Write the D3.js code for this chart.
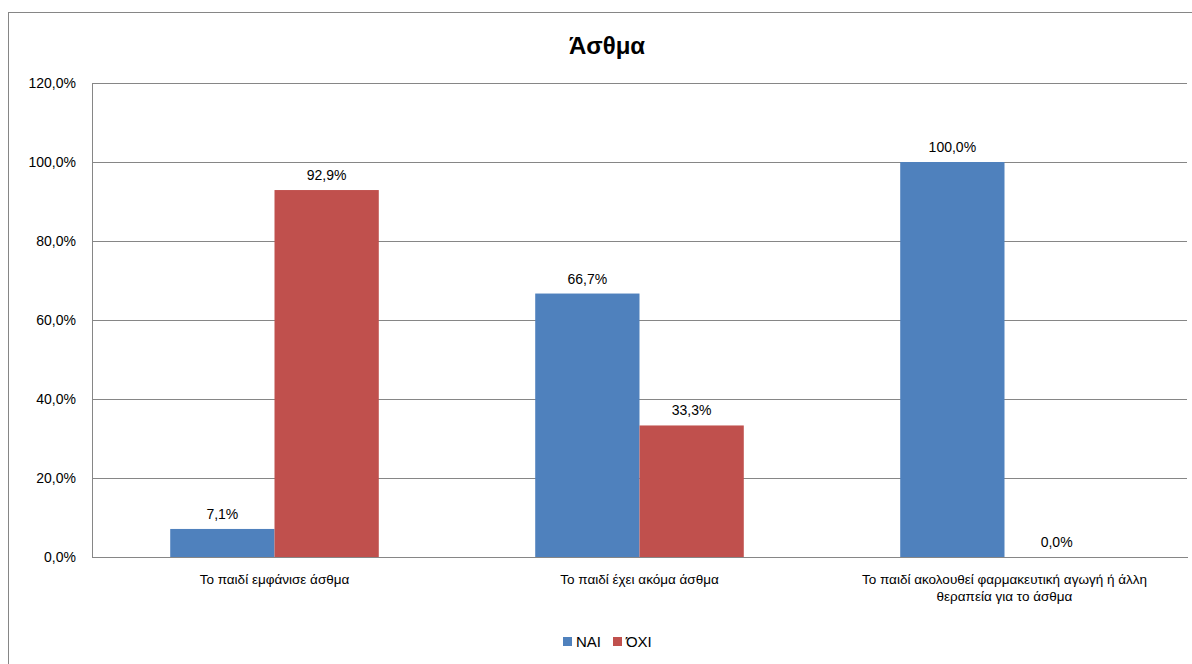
<!DOCTYPE html>
<html>
<head>
<meta charset="utf-8">
<script src="https://cdn.jsdelivr.net/npm/d3@7"></script>
<style>
body { margin: 0; background: #fff; }
text { font-family: "Liberation Sans", Arial, sans-serif; fill: #000; }
</style>
</head>
<body>
<script>
const categories = [
    'Το παιδί εμφάνισε άσθμα',
    'Το παιδί έχει ακόμα άσθμα',
    'Το παιδί ακολουθεί φαρμακευτική αγωγή ή άλλη θεραπεία για το άσθμα'
]
const seriesNames = ['ΝΑΙ', 'ΌΧΙ']
const naiValues = [7.1, 66.7, 100.0]
const oxiValues = [92.9, 33.3, 0.0]
const yTicks = [0, 20, 40, 60, 80, 100, 120]
const colors = ['#4F81BD', '#C0504D']

const W = 1192, H = 664
const plot = { left: 92, top: 83, right: 1187, bottom: 557 }

const svg = d3.select('body').append('svg')
    .attr('width', W)
    .attr('height', H)

// chart border
svg.append('rect')
    .attr('x', 8.5).attr('y', 12.5)
    .attr('width', 1200).attr('height', 700)
    .attr('fill', 'none')
    .attr('stroke', '#868686')
    .attr('stroke-width', 1)

svg.append('text')
    .attr('x', 607).attr('y', 54)
    .attr('text-anchor', 'middle')
    .style('font-size', '24px')
    .style('font-weight', 'bold')
    .text('Άσθμα')

const x0 = d3.scaleBand().domain(categories).range([plot.left, plot.right]).paddingInner(0).paddingOuter(0)
// excel gap width 150%: band = 2 bars + 1.5 bar
const barW = x0.bandwidth() / 3.5
const x1 = d3.scaleBand().domain(seriesNames).range([barW * 0.75, barW * 2.75])
const y = d3.scaleLinear().domain([0, 120]).range([plot.bottom, plot.top])

// gridlines
svg.append('g')
    .attr('transform', 'translate(' + plot.left + ',0)')
    .call(d3.axisLeft(y).tickValues(yTicks).tickSize(-(plot.right - plot.left)).tickFormat(''))
    .call(g => g.select('.domain').remove())
    .selectAll('line')
    .attr('stroke', '#868686')
    .attr('shape-rendering', 'crispEdges')

// y axis labels
svg.append('g')
    .attr('transform', 'translate(' + plot.left + ',0)')
    .call(d3.axisLeft(y).tickValues(yTicks).tickSize(0).tickPadding(16)
        .tickFormat(d => d.toFixed(1).replace('.', ',') + '%'))
    .call(g => g.select('.domain').attr('stroke', '#868686').attr('shape-rendering', 'crispEdges'))
    .selectAll('text')
    .style('font-size', '14px')

const rows = categories.map((c, i) => ({
    cat: c,
    vals: [
        { name: seriesNames[0], value: naiValues[i] },
        { name: seriesNames[1], value: oxiValues[i] }
    ]
}))

const groups = svg.append('g').selectAll('g')
    .data(rows).enter()
    .append('g')
    .attr('transform', d => 'translate(' + x0(d.cat) + ',0)')

groups.selectAll('rect')
    .data(d => d.vals).enter()
    .append('rect')
    .attr('x', d => x1(d.name))
    .attr('y', d => y(d.value))
    .attr('width', x1.bandwidth())
    .attr('height', d => y(0) - y(d.value))
    .attr('fill', (d, i) => colors[i])

groups.selectAll('.lbl')
    .data(d => d.vals).enter()
    .append('text')
    .attr('class', 'lbl')
    .attr('x', d => x1(d.name) + x1.bandwidth() / 2)
    .attr('y', d => y(d.value) - 10)
    .attr('text-anchor', 'middle')
    .style('font-size', '14px')
    .text(d => d.value.toFixed(1).replace('.', ',') + '%')

// x axis category labels
const xl = svg.append('g')
    .attr('transform', 'translate(0,' + plot.bottom + ')')
    .call(d3.axisBottom(x0).tickSize(0).tickPadding(17))
xl.select('.domain').attr('stroke', '#868686').attr('shape-rendering', 'crispEdges')
xl.selectAll('text')
    .style('font-size', '13.5px')
    .call(wrap, 330)

function wrap(texts, width) {
    texts.each(function() {
        const t = d3.select(this)
        const words = t.text().split(/\s+/)
        const yy = t.attr('y'), dy = parseFloat(t.attr('dy'))
        t.text(null)
        let line = [], lineNo = 0
        let tspan = t.append('tspan').attr('x', 0).attr('y', yy).attr('dy', dy + 'em')
        words.forEach(w => {
            line.push(w)
            tspan.text(line.join(' '))
            if (tspan.node().getComputedTextLength() > width && line.length > 1) {
                line.pop()
                tspan.text(line.join(' '))
                line = [w]
                lineNo++
                tspan = t.append('tspan').attr('x', 0).attr('y', yy)
                    .attr('dy', (dy + lineNo * 1.3) + 'em').text(w)
            }
        })
    })
}

// legend
const legend = svg.append('g').attr('transform', 'translate(563,637)')
const items = legend.selectAll('g')
    .data(seriesNames).enter()
    .append('g')
    .attr('transform', (d, i) => 'translate(' + (i * 50) + ',0)')
items.append('rect')
    .attr('width', 9).attr('height', 9)
    .attr('fill', (d, i) => colors[i])
items.append('text')
    .attr('x', 13).attr('y', 10)
    .style('font-size', '15px')
    .text(d => d)
</script>
</body>
</html>
